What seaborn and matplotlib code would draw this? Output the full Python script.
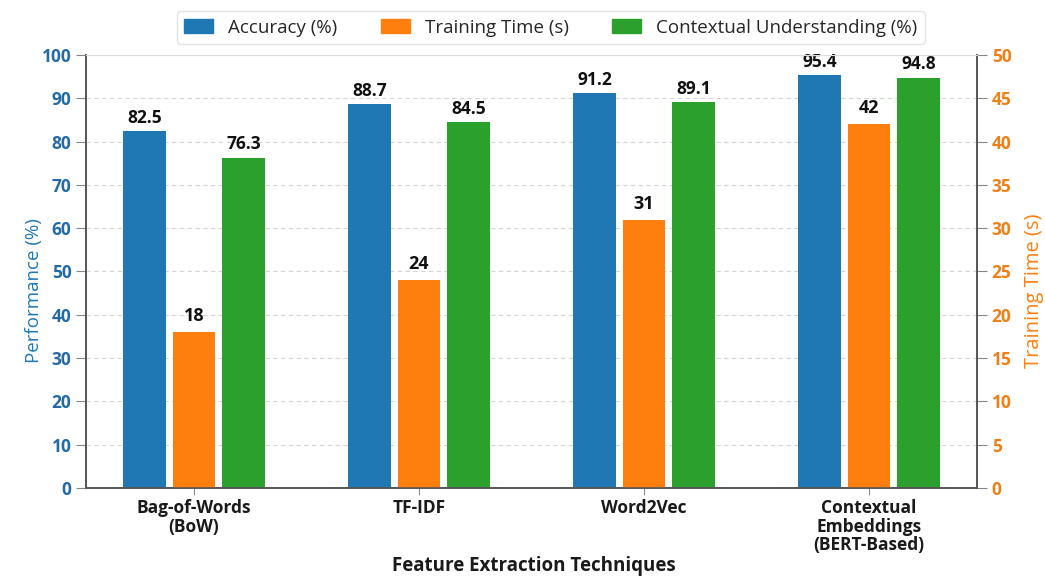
import matplotlib
matplotlib.use("Agg")
import matplotlib.pyplot as plt
import seaborn as sns
import pandas as pd
import numpy as np

techniques = ["Bag-of-Words\n(BoW)", "TF-IDF", "Word2Vec", "Contextual\nEmbeddings\n(BERT-Based)"]
accuracy = [82.5, 88.7, 91.2, 95.4]
training_time = [18, 24, 31, 42]
contextual = [76.3, 84.5, 89.1, 94.8]

metrics = ["Accuracy (%)", "Training Time (s)", "Contextual Understanding (%)"]
colors = {"Accuracy (%)": "#1f77b4", "Training Time (s)": "#ff7f0e",
          "Contextual Understanding (%)": "#2ca02c"}

# Percent metrics go on the left axis, seconds on the right axis.
# Each frame carries all three hue levels so the dodge slots line up;
# the levels that belong to the other axis are left at zero height.
zeros = [0] * len(techniques)
perf = pd.DataFrame({
    "Technique": techniques * 3,
    "Metric": [m for m in metrics for _ in techniques],
    "Value": accuracy + zeros + contextual,
})
times = pd.DataFrame({
    "Technique": techniques * 3,
    "Metric": [m for m in metrics for _ in techniques],
    "Value": zeros + training_time + zeros,
})

sns.set_style("white")
plt.rcParams["font.family"] = ["Open Sans", "DejaVu Sans"]

fig = plt.figure(figsize=(10.45, 5.76), dpi=100)
ax = fig.add_axes([0.0823, 0.1528, 0.8527, 0.7517])
ax2 = ax.twinx()

bar_kw = dict(x="Technique", y="Value", hue="Metric", hue_order=metrics,
              order=techniques, palette=colors, width=0.66, gap=0.14,
              errorbar=None, legend=False, saturation=1, linewidth=0)
sns.barplot(data=perf, ax=ax, **bar_kw)
sns.barplot(data=times, ax=ax2, **bar_kw)

ax.set_ylim(0, 100)
ax2.set_ylim(0, 50)
ax.set_xlim(-0.48, 3.48)
ax.set_yticks(np.arange(0, 101, 10))
ax2.set_yticks(np.arange(0, 51, 5))

ax.yaxis.grid(True, linestyle=(0, (4, 3)), color="#d4d4d4", linewidth=0.8)
ax.set_axisbelow(True)

blue_txt = "#236aa8"
orange_txt = "#f07f15"
ax.tick_params(axis="y", colors="#888888", labelcolor=blue_txt, length=7,
               direction="out", left=True, labelsize=12.5)
ax2.tick_params(axis="y", colors="#888888", labelcolor=orange_txt, length=7,
                direction="out", right=True, labelsize=12.5)
ax.tick_params(axis="x", colors="#888888", labelcolor="#1a1a1a", length=5,
               bottom=True, labelsize=12.5, pad=3)
for lbl in ax.get_yticklabels():
    lbl.set_fontweight("bold")
for lbl in ax2.get_yticklabels():
    lbl.set_fontweight("bold")
for lbl in ax.get_xticklabels():
    lbl.set_fontweight("bold")
    lbl.set_linespacing(1.05)

ax.set_ylabel("Performance (%)", color="#1f77b4", fontsize=13.5,
              labelpad=-1, y=0.455)
ax2.set_ylabel("Training Time (s)", color="#ff7f0e", fontsize=14.5,
               labelpad=9, y=0.455)
ax.set_xlabel("Feature Extraction Techniques", fontsize=13.5, fontweight="bold",
              color="#1a1a1a")
ax.xaxis.set_label_coords(0.503, -0.158)

for a in (ax, ax2):
    for side in ("left", "right", "bottom"):
        a.spines[side].set_visible(True)
        a.spines[side].set_color("#555555")
        a.spines[side].set_linewidth(1.2)
    a.spines["top"].set_color("#dddddd")
    a.spines["top"].set_linewidth(0.8)

# Value labels only on the bars that carry data on each axis
for i in (0, 2):
    ax.bar_label(ax.containers[i], fmt="%.1f", padding=3, fontsize=12.5,
                 fontweight="bold", color="#111111")
ax2.bar_label(ax2.containers[1], fmt="%d", padding=5, fontsize=13,
              fontweight="bold", color="#111111")

handles = [plt.Rectangle((0, 0), 1, 1, color=colors[m]) for m in metrics]
fig.legend(handles, metrics, loc="upper center", bbox_to_anchor=(0.527, 0.997),
           ncol=3, frameon=True, fontsize=13.5, handlelength=1.55,
           handleheight=0.7, columnspacing=2.3, handletextpad=0.8,
           edgecolor="#dddddd", fancybox=True, borderpad=0.4)

fig.savefig("out.png", dpi=100)
